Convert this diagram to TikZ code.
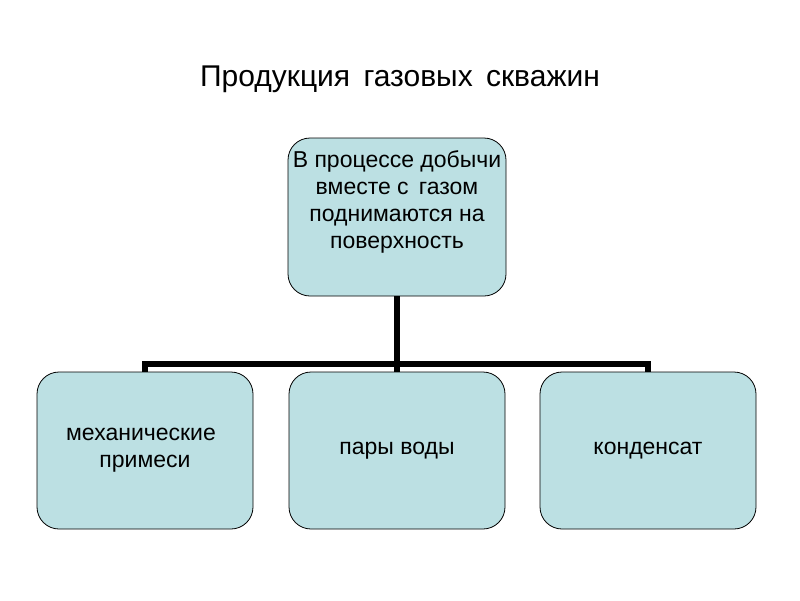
\documentclass[tikz,border=0pt]{standalone}
\usepackage{fontspec}
\setmainfont{Liberation Sans}
\usepackage{xcolor}
\definecolor{boxfill}{RGB}{188,224,227}

\tikzset{
    block/.style={draw=black, line width=0.8pt, fill=boxfill, rounded corners=22pt, minimum width=216pt, minimum height=157pt, inner sep=2pt, align=center, font=\fontsize{23}{27}\selectfont},
    conn/.style={line width=5.5pt, black},
}

\begin{document}
\begin{tikzpicture}[x=1pt,y=-1pt]
    \useasboundingbox (0,0) rectangle (800,600);

    % Title
    \node[anchor=base, font=\fontsize{30}{36}\selectfont] (title) at (400,86) {Продукция \,газовых \,скважин};

    % Top box
    \node[block, minimum width=218pt, minimum height=158pt] (top) at (397,217) {};
    \node[anchor=north, align=center, font=\fontsize{23}{27}\selectfont, inner sep=0pt] (toptext) at ([yshift=-13pt]top.north) {В процессе добычи\\ вместе с \,газом\\ поднимаются на\hspace*{16pt}\\ поверхность};

    % Bottom boxes
    \node[block] (mech) at (145,450.5) {механические\hspace*{8pt}\\ примеси};
    \node[block] (water) at (397,450.5) {пары воды};
    \node[block] (cond) at (648,450.5) {конденсат};

    % Connectors
    \coordinate (bus) at (397,364);
    \draw[conn] (top.south) -- (top.south |- bus);
    \draw[conn] (mech.north) -- (mech.north |- bus) -- (cond.north |- bus) -- (cond.north);
    \draw[conn] (water.north) -- (water.north |- bus);
\end{tikzpicture}
\end{document}
